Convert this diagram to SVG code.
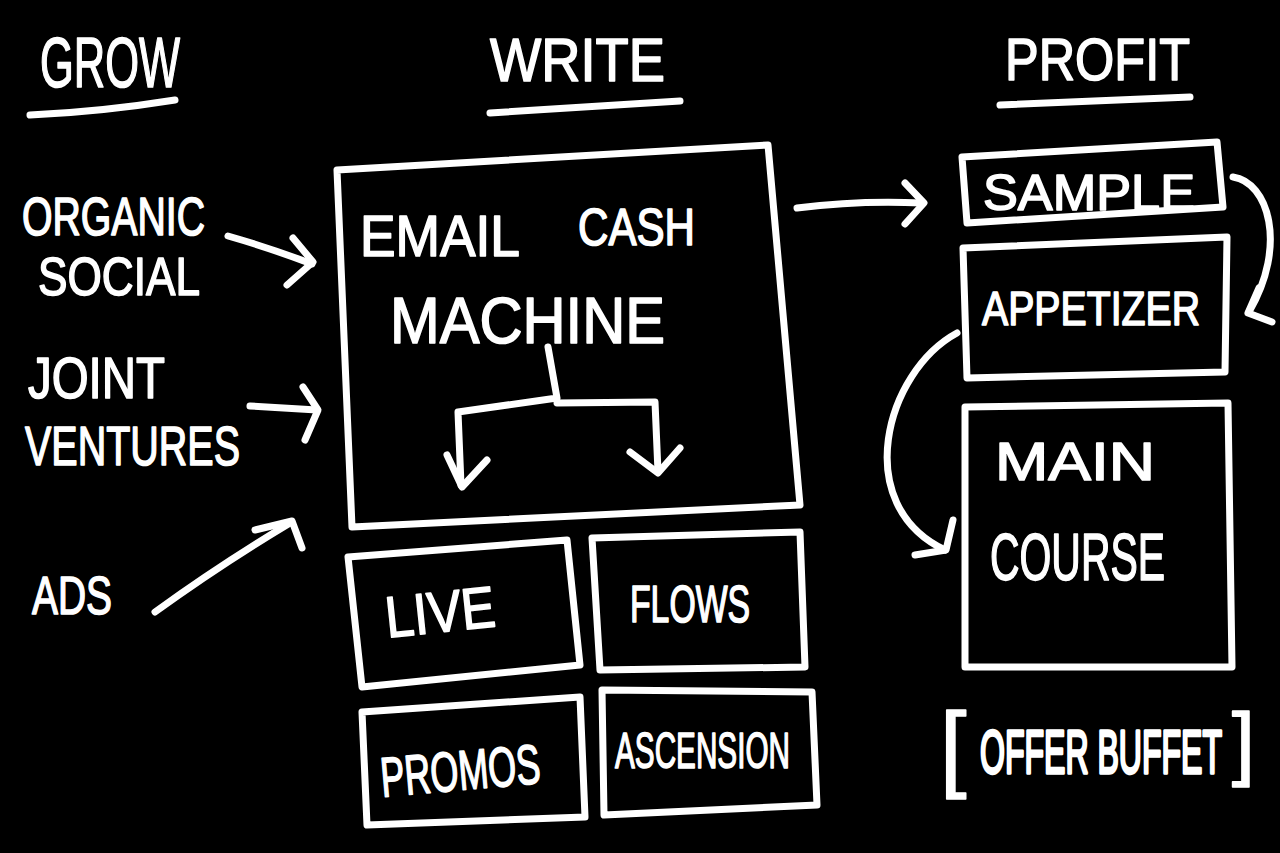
<svg xmlns="http://www.w3.org/2000/svg" width="1280" height="853" viewBox="0 0 1280 853">
<style>
.s{fill:none;stroke:#fff;stroke-width:7;stroke-linecap:round;stroke-linejoin:round}
.t{font-family:"Liberation Sans","DejaVu Sans",sans-serif;fill:#fff;stroke:#fff;stroke-width:1.6;stroke-linejoin:round}
</style>
<rect width="1280" height="853" fill="#000"/>
<g id="headers">
<text class="t" x="40" y="87" font-size="70" textLength="140" lengthAdjust="spacingAndGlyphs">GROW</text>
<path class="s" d="M30,115 Q100,112 175,100" stroke-width="8"/>
<text class="t" x="490" y="81" font-size="62" textLength="175" lengthAdjust="spacingAndGlyphs">WRITE</text>
<path class="s" d="M490,113 L680,101"/>
<text class="t" x="1005" y="80" font-size="60" textLength="185" lengthAdjust="spacingAndGlyphs">PROFIT</text>
<path class="s" d="M1000,105 L1190,97"/>
</g>
<g id="organic-social">
<text class="t" x="22" y="235" font-size="54" textLength="183" lengthAdjust="spacingAndGlyphs">ORGANIC</text>
<text class="t" x="38" y="295" font-size="54" textLength="162" lengthAdjust="spacingAndGlyphs">SOCIAL</text>
</g>
<g id="joint-ventures">
<text class="t" x="28" y="398" font-size="58" textLength="137" lengthAdjust="spacingAndGlyphs">JOINT</text>
<text class="t" x="25" y="465" font-size="56" textLength="215" lengthAdjust="spacingAndGlyphs">VENTURES</text>
</g>
<g id="ads">
<text class="t" x="32" y="614" font-size="54" textLength="80" lengthAdjust="spacingAndGlyphs">ADS</text>
</g>
<g id="email-cash-machine">
<path class="s" d="M337,170 L768,145 L800,505 L352,527 Z"/>
<text class="t" x="360" y="256" font-size="58" textLength="160" lengthAdjust="spacingAndGlyphs">EMAIL</text>
<text class="t" x="578" y="245" font-size="52" textLength="117" lengthAdjust="spacingAndGlyphs">CASH</text>
<text class="t" x="390" y="343" font-size="64" textLength="275" lengthAdjust="spacingAndGlyphs">MACHINE</text>
</g>
<g id="live">
<path class="s" d="M348,557 L567,540 L580,665 L362,687 Z"/>
<text class="t" x="385" y="632" font-size="58" textLength="110" lengthAdjust="spacingAndGlyphs" transform="rotate(-6 440 610)">LIVE</text>
</g>
<g id="flows">
<path class="s" d="M592,538 L800,532 L805,667 L600,670 Z"/>
<text class="t" x="630" y="622" font-size="52" textLength="120" lengthAdjust="spacingAndGlyphs">FLOWS</text>
</g>
<g id="promos">
<path class="s" d="M362,712 L580,697 L585,817 L367,825 Z"/>
<text class="t" x="380" y="790" font-size="56" textLength="160" lengthAdjust="spacingAndGlyphs" transform="rotate(-5 460 768)">PROMOS</text>
</g>
<g id="ascension">
<path class="s" d="M602,690 L812,692 L817,805 L604,815 Z"/>
<text class="t" x="615" y="768" font-size="50" textLength="175" lengthAdjust="spacingAndGlyphs">ASCENSION</text>
</g>
<g id="sample">
<path class="s" d="M962,157 L1217,142 L1223,207 L967,223 Z"/>
<text class="t" x="983" y="210" font-size="50" textLength="212" lengthAdjust="spacingAndGlyphs">SAMPLE</text>
</g>
<g id="appetizer">
<path class="s" d="M963,248 L1227,237 L1225,372 L967,378 Z"/>
<text class="t" x="982" y="325" font-size="48" textLength="218" lengthAdjust="spacingAndGlyphs">APPETIZER</text>
</g>
<g id="main-course">
<path class="s" d="M965,407 L1228,403 L1232,667 L965,667 Z"/>
<text class="t" x="995" y="480" font-size="54" textLength="160" lengthAdjust="spacingAndGlyphs">MAIN</text>
<text class="t" x="990" y="580" font-size="66" textLength="175" lengthAdjust="spacingAndGlyphs">COURSE</text>
</g>
<g id="offer-buffet">
<text class="t" x="940" y="779" font-size="95">[</text>
<text class="t" x="980" y="773" font-size="29" textLength="242" lengthAdjust="spacingAndGlyphs" stroke-width="0.9" transform="translate(0 773) scale(1 2.1) translate(0 -773)">OFFER BUFFET</text>
<text class="t" x="1232" y="770" font-size="82">]</text>
</g>
<g id="connectors">
<path class="s" d="M228,236 Q270,248 312,264"/>
<path class="s" d="M293,238 L313,262 L287,285"/>
<path class="s" d="M250,406 Q285,408 317,410"/>
<path class="s" d="M303,387 L318,410 L305,440"/>
<path class="s" d="M155,612 Q220,565 290,523"/>
<path class="s" d="M255,530 L292,521 L302,548"/>
<path class="s" d="M548,347 L557,398 L458,412 L461,485"/>
<path class="s" d="M447,455 L462,487 L487,460"/>
<path class="s" d="M557,403 L655,402 L658,472"/>
<path class="s" d="M630,452 L658,473 L680,448"/>
<path class="s" d="M797,208 Q860,200 922,203"/>
<path class="s" d="M905,183 L924,203 L905,224"/>
<path class="s" d="M1233,177 C1268,182 1288,245 1249,312"/>
<path class="s" d="M1259,288 L1248,313 L1272,322"/>
<path class="s" d="M957,333 C885,372 850,505 945,550"/>
<path class="s" d="M953,520 L946,550 L915,555"/>
</g>
</svg>
